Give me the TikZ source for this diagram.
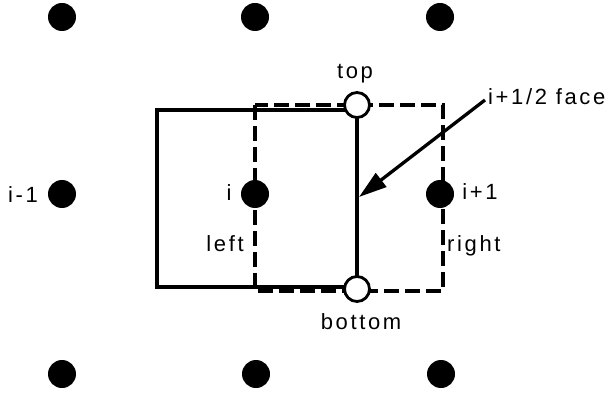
\documentclass[tikz,border=0pt]{standalone}
\usepackage{fontspec}
\setmainfont{Liberation Sans}[LetterSpace=12]
\usetikzlibrary{arrows.meta}

\tikzset{
  gridpt/.style={circle, fill=black, inner sep=0pt, minimum size=28pt},
  facept/.style={circle, draw=black, fill=white, line width=2.8pt, inner sep=0pt, minimum size=25pt},
  lbl/.style={font=\fontsize{22}{26}\selectfont, inner sep=0pt},
}

\begin{document}
\begin{tikzpicture}[x=1pt, y=-1pt, >={Triangle[length=28pt,width=17pt]}]
            \useasboundingbox (0,0) rectangle (610,398);
            % ==== CELLS ====
            \draw[line width=3.3pt] (157,110) rectangle (357,287);
            \draw[line width=3.3pt, dash pattern=on 15pt off 6pt] (255,105) rectangle (443,291);
            % ==== GRID POINTS ====
            \node[gridpt] (ul) at (62,17) {};
            \node[gridpt] (uc) at (255,17) {};
            \node[gridpt] (ur) at (440,17) {};
            \node[gridpt] (im) at (62,194) {};
            \node[gridpt] (ic) at (255,194) {};
            \node[gridpt] (ip) at (440,194) {};
            \node[gridpt] (ll) at (62,374) {};
            \node[gridpt] (lc) at (256,374) {};
            \node[gridpt] (lr) at (441,374) {};
            % ==== FACE ====
            \node[facept] (top) at (357,105) {};
            \node[facept] (bottom) at (357,289) {};
            \draw[line width=3.3pt] (top) -- (bottom);
            \coordinate (facetip) at (359,197);
            \node[lbl, anchor=west] (facelbl) at (488,97) {i+1/2 face};
            \draw[->, line width=3.3pt] ([shift={(-3pt,-3pt)}]facelbl.west) -- (facetip);
            % ==== LABELS ====
            \node[lbl] (toplbl) at (355,74) {top};
            \node[lbl] (botlbl) at (361,322) {bottom};
            \node[lbl] (ilbl) at (229,193) {i};
            \node[lbl] (imlbl) at (23,195) {i-1};
            \node[lbl] (iplbl) at (480,192) {i+1};
            \node[lbl] (leftlbl) at (225,244) {left};
            \node[lbl, anchor=west] (rightlbl) at (447,246) {right};
\end{tikzpicture}
\end{document}
